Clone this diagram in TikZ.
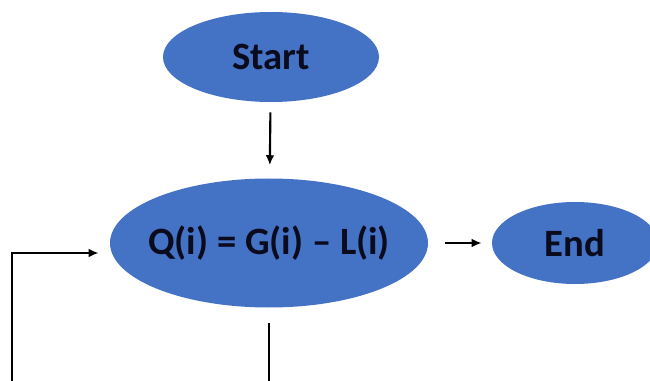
\documentclass[tikz,border=0pt]{standalone}
\usepackage{fontspec}
\setsansfont{Carlito}
\usetikzlibrary{arrows.meta,shapes.geometric}
\definecolor{ovalblue}{HTML}{4472C4}
\definecolor{inkdark}{HTML}{0B0B1E}

\begin{document}
\begin{tikzpicture}[
  x=0.75pt, y=-0.75pt,
  font=\sffamily\bfseries\fontsize{29}{31}\selectfont, >={Latex[length=7.5pt,width=6.5pt]},
  flow/.style={draw=black, line width=1.6pt},
  oval/.style={ellipse, fill=ovalblue, text=inkdark, inner sep=0pt}]
\useasboundingbox (0,0) rectangle (650,381);
\clip (0,0) rectangle (650,381);
\node[oval, minimum width=162pt, minimum height=67.5pt] (start) at (271,57) {Start};
\node[oval, inner xsep=-12pt, minimum width=238.5pt, minimum height=96.75pt] (calc) at (269,243) {Q(i) = G(i) -- L(i)};
\node[oval, minimum width=124.5pt, minimum height=61.5pt] (finish) at (575,243) {End};
\coordinate (loopcorner) at (12,395);
\draw[flow, ->, shorten <=7.5pt, shorten >=9.75pt] (start) -- (calc);
\draw[flow, ->, shorten <=12.75pt, shorten >=7.5pt] (calc) -- (finish);
\draw[flow, ->, shorten <=11.25pt, shorten >=8.25pt]
  (calc.south) |- (loopcorner) |- ([yshift=-7.5pt]calc.west);
\end{tikzpicture}
\end{document}
